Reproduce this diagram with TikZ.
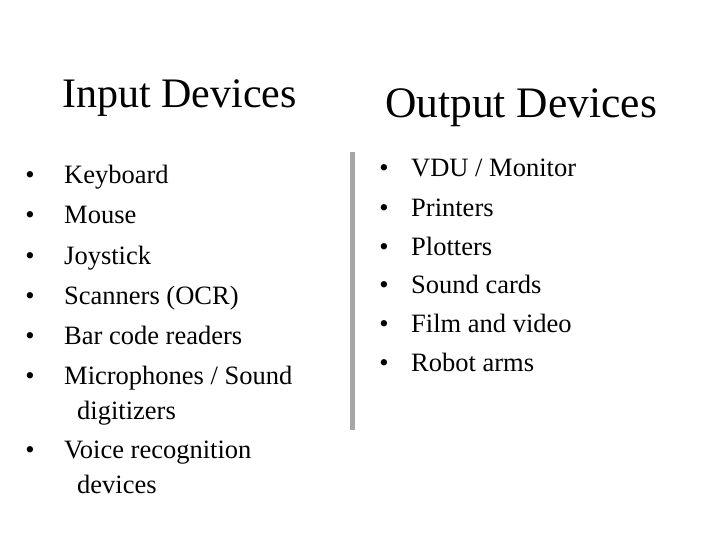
\documentclass[tikz,border=0pt]{standalone}
\usepackage{fontspec}
\setmainfont{Liberation Serif}
\begin{document}
\begin{tikzpicture}[x=1pt,y=-1pt,
  item/.style={anchor=base west,inner sep=0pt,font=\fontsize{26.5}{30}\selectfont},
  bul/.style={anchor=base,inner sep=0pt,font=\fontsize{26.5}{30}\selectfont}]
\useasboundingbox (0,0) rectangle (720,540);
\node[anchor=base west,inner sep=0pt,font=\fontsize{42}{48}\selectfont] (t1) at (62,108) {Input Devices};
\node[anchor=base west,inner sep=0pt,font=\fontsize{43.5}{50}\selectfont] (t2) at (385,118) {Output Devices};
\fill[gray!70] (350,152) rectangle (355,430);
\foreach \n/\y/\t in {a/184/{Keyboard},b/224/{Mouse},c/264/{Joystick},d/304/{Scanners (OCR)},e/344/{Bar code readers},f/384/{Microphones / Sound},h/458/{Voice recognition}}{
  \node[bul] (b\n) at (30,\y) {•};
  \node[item] (i\n) at (64,\y) {\t};}
\node[item] (ig) at (77,419) {digitizers};
\node[item] (ii) at (77,493) {devices};
\foreach \n/\y/\t in {a/177/{VDU / Monitor},b/216/{Printers},c/255/{Plotters},d/293/{Sound cards},e/332/{Film and video},f/371/{Robot arms}}{
  \node[bul] (r\n) at (384,\y) {•};
  \node[item] (o\n) at (411,\y) {\t};}
\end{tikzpicture}
\end{document}
